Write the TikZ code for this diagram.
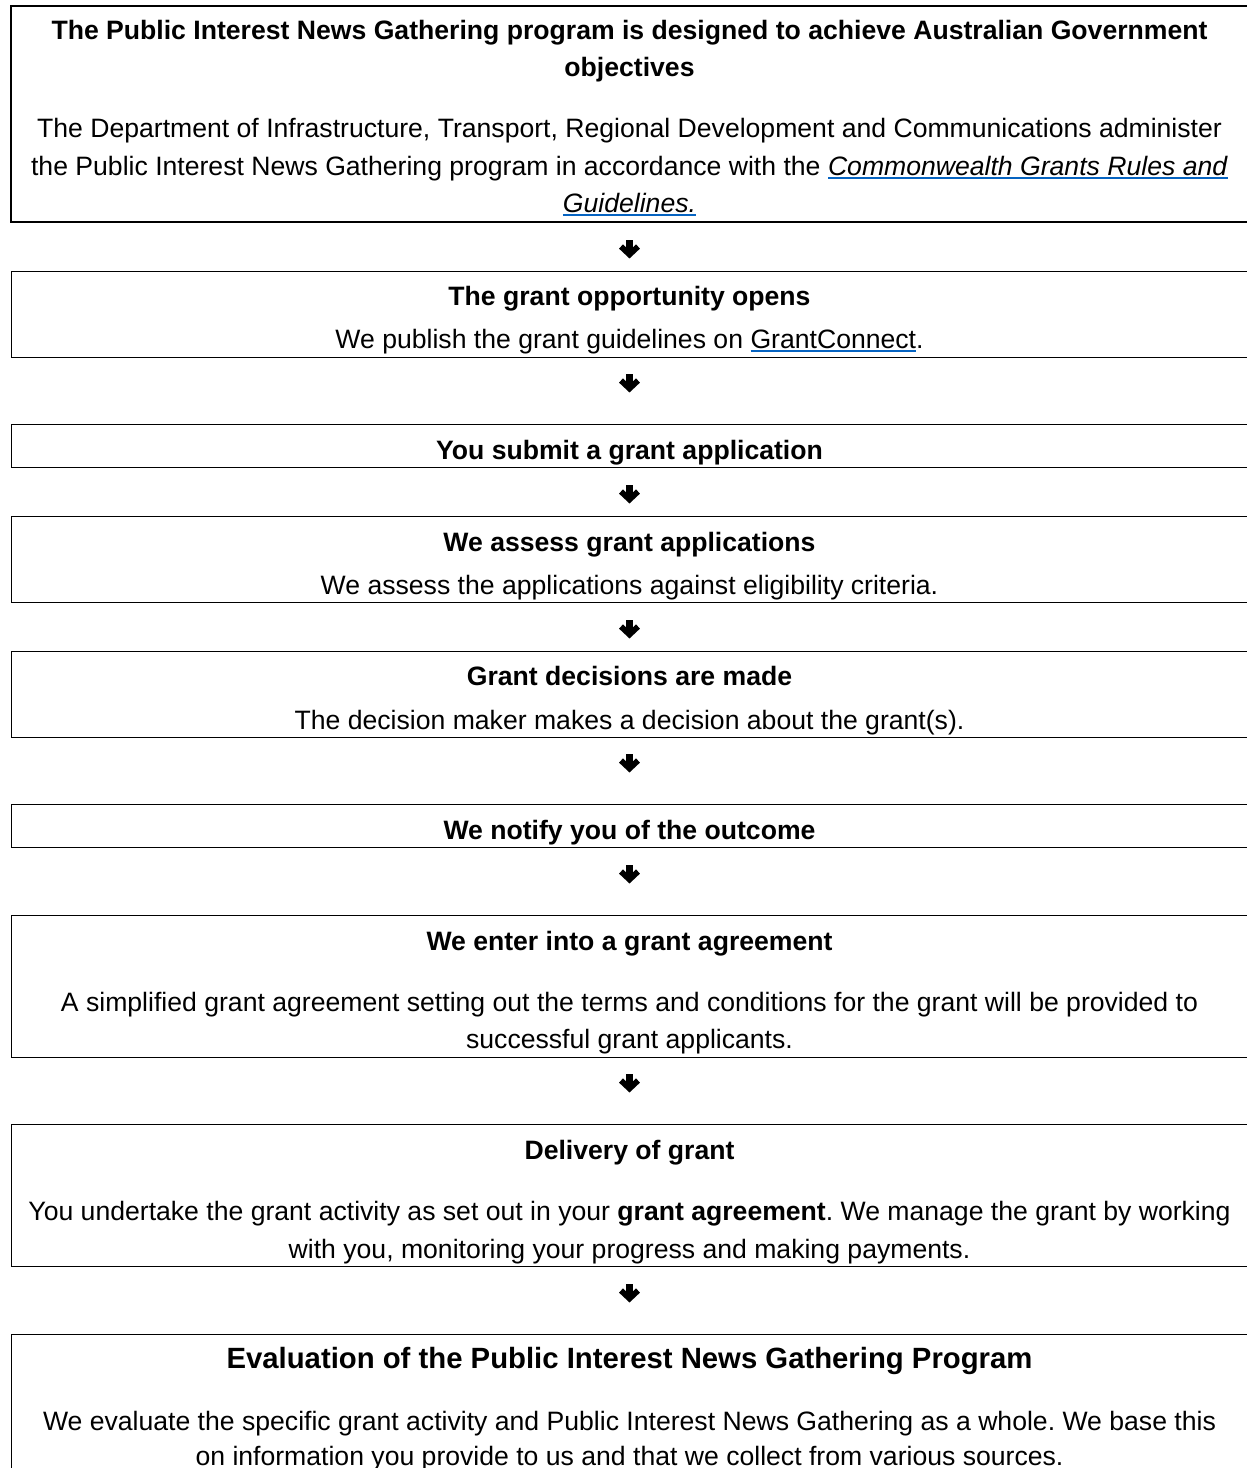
\documentclass[tikz,border=0pt]{standalone}
\usepackage{fontspec}
\setmainfont{Liberation Sans}
\usetikzlibrary{arrows.meta}
\definecolor{linkblue}{HTML}{0563C1}
\newcommand\linkul[1]{\setbox0\hbox{#1}\rlap{\textcolor{linkblue}{\rule[-3.8pt]{\wd0}{1.7pt}}}\box0}
\frenchspacing
\begin{document}
\frenchspacing
\begin{tikzpicture}[x=1pt,y=-1pt,
  frame/.style={draw, line width=1.3pt, inner sep=0pt, anchor=north west, minimum width=1239pt},
  bodytxt/.style={anchor=base, inner sep=0pt, font=\fontsize{26.6}{32}\selectfont},
  headtxt/.style={anchor=base, inner sep=0pt, font=\fontsize{26.6}{32}\selectfont\bfseries},
  bigtxt/.style={anchor=base, inner sep=0pt, font=\fontsize{29.3}{35}\selectfont\bfseries},
  arrowstem/.style={line width=7pt},
  arrowhead/.style={line width=5.8pt, miter limit=10, line join=miter}]
\useasboundingbox (0,0) rectangle (1247,1468);
% boxes
\node[frame, line width=2.2pt, minimum height=216pt] (b1) at (10,5) {};
\node[frame, minimum height=86pt] (b2) at (10.5,271) {};
\node[frame, minimum height=43pt] (b3) at (10.5,424) {};
\node[frame, minimum height=86pt] (b4) at (10.5,516) {};
\node[frame, minimum height=86pt] (b5) at (10.5,651) {};
\node[frame, minimum height=43pt] (b6) at (10.5,804) {};
\node[frame, minimum height=142pt] (b7) at (10.5,915) {};
\node[frame, minimum height=142pt] (b8) at (10.5,1124) {};
\node[frame, minimum height=180pt] (b9) at (10.5,1334) {};
% texts
\def\cx{629.5}
\node[headtxt] (t1a) at (\cx,39) {The Public Interest News Gathering program is designed to achieve Australian Government};
\node[headtxt] (t1b) at (\cx,76.5) {objectives};
\node[bodytxt] (t1c) at (\cx,137.5) {The Department of Infrastructure, Transport, Regional Development and Communications administer};
\node[bodytxt] (t1d) at (\cx,175) {the Public Interest News Gathering program in accordance with the \linkul{\textit{Commonwealth Grants Rules and}}};
\node[bodytxt] (t1e) at (\cx,212) {\linkul{\textit{Guidelines.}}};
\node[headtxt] (t2a) at (\cx,305) {The grant opportunity opens};
\node[bodytxt] (t2b) at (\cx,348) {We publish the grant guidelines on \linkul{GrantConnect}.};
\node[headtxt] (t3a) at (\cx,459) {You submit a grant application};
\node[headtxt] (t4a) at (\cx,551) {We assess grant applications};
\node[bodytxt] (t4b) at (\cx,594) {We assess the applications against eligibility criteria.};
\node[headtxt] (t5a) at (\cx,685) {Grant decisions are made};
\node[bodytxt] (t5b) at (\cx,729) {The decision maker makes a decision about the grant(s).};
\node[headtxt] (t6a) at (\cx,839) {We notify you of the outcome};
\node[headtxt] (t7a) at (\cx,950) {We enter into a grant agreement};
\node[bodytxt] (t7b) at (\cx,1011) {A simplified grant agreement setting out the terms and conditions for the grant will be provided to};
\node[bodytxt] (t7c) at (\cx,1048) {successful grant applicants.};
\node[headtxt] (t8a) at (\cx,1159) {Delivery of grant};
\node[bodytxt] (t8b) at (\cx,1220) {You undertake the grant activity as set out in your \textbf{grant agreement}. We manage the grant by working};
\node[bodytxt] (t8c) at (\cx,1258) {with you, monitoring your progress and making payments.};
\node[bigtxt] (t9a) at (\cx,1368) {Evaluation of the Public Interest News Gathering Program};
\node[bodytxt] (t9b) at (\cx,1430) {We evaluate the specific grant activity and Public Interest News Gathering as a whole. We base this};
\node[bodytxt] (t9c) at (\cx,1465) {on information you provide to us and that we collect from various sources.};
% arrows
\foreach \i/\yy in {1/250,2/384,3/495,4/630,5/764,6/875,7/1084,8/1294}{
  \coordinate (a\i s) at (\cx,\yy-10);
  \coordinate (a\i e) at (\cx,\yy+4.5);
  \draw[arrowstem] (a\i s) -- (a\i e);
  \draw[arrowhead] ([shift={(-8.5,-8)}]a\i e) -- (a\i e) -- ([shift={(8.5,-8)}]a\i e);
}
\end{tikzpicture}
\end{document}
